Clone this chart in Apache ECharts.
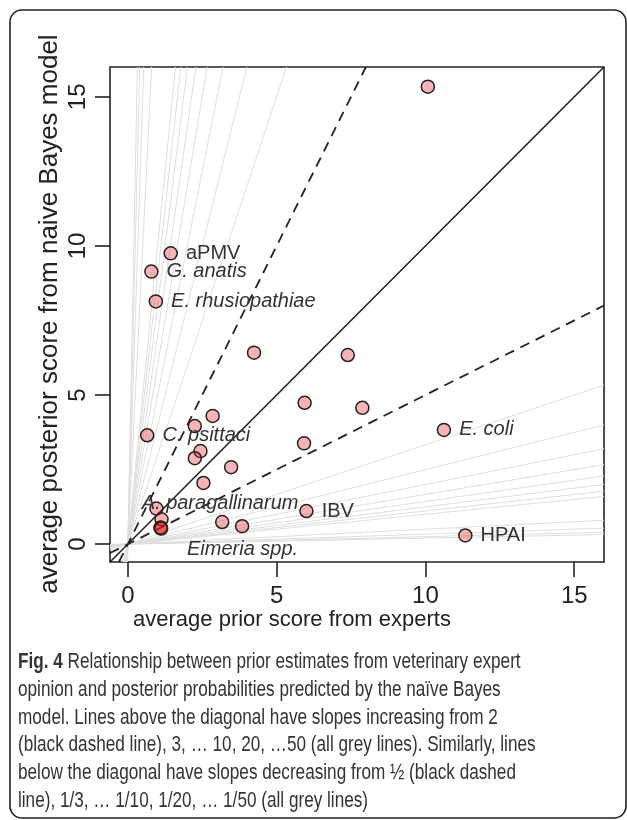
<!DOCTYPE html>
<html>
<head>
<meta charset="utf-8">
<script src="https://cdn.jsdelivr.net/npm/echarts@6/dist/echarts.min.js"></script>
<style>
  html, body { margin: 0; padding: 0; background: #fff; }
  #main { width: 627px; height: 820px; }
</style>
</head>
<body>
<div id="main"></div>
<script>
// values
var priorScore = [10.08, 1.44, 0.79, 0.94, 4.24, 7.39, 5.94, 7.88, 10.62, 0.65, 2.85, 2.25, 5.92,
                  2.44, 2.25, 3.47, 2.54, 0.96, 6.0, 1.13, 3.17, 3.84, 11.34, 1.10, 1.10, 1.12];
var posteriorScore = [15.34, 9.75, 9.14, 8.14, 6.42, 6.34, 4.74, 4.57, 3.83, 3.65, 4.30, 3.96, 3.38,
                      3.12, 2.88, 2.58, 2.05, 1.19, 1.11, 0.83, 0.74, 0.60, 0.29, 0.54, 0.56, 0.52];
var pathogen = ['', 'aPMV', 'G. anatis', 'E. rhusiopathiae', '', '', '', '', 'E. coli', 'C. psittaci', '', '', '',
                '', '', '', '', 'A. paragallinarum', 'IBV', '', '', '', 'HPAI', 'Eimeria spp.', '', ''];
var greySlopes = [3, 4, 5, 6, 7, 8, 9, 10, 20, 30, 40, 50];
var dashedSlopes = [2, 1 / 2];
var axisTicks = [0, 5, 10, 15];

var axMin = -0.6, axMax = 16;
var plainNames = ['aPMV', 'IBV', 'HPAI'];
// label tweaks for the two labels R put off the point
var labelTweaks = {
  'A. paragallinarum': { position: 'right', offset: [-30, -5] },
  'Eimeria spp.': { position: 'inside', offset: [82, 21] }
};

// line through the origin with slope k, clipped to the plot box
function slopeLine(k) {
  var x0 = Math.max(axMin, axMin / k), x1 = Math.min(axMax, axMax / k);
  return [[x0, k * x0], [x1, k * x1]];
}

var series = [];
greySlopes.forEach(function (s) {
  [s, 1 / s].forEach(function (k) {
    series.push({
      type: 'line', data: slopeLine(k), symbol: 'none', silent: true, z: 1,
      lineStyle: { color: '#dedede', width: 1 }
    });
  });
});
dashedSlopes.forEach(function (k) {
  series.push({
    type: 'line', data: slopeLine(k), symbol: 'none', silent: true, z: 2,
    lineStyle: { color: '#222', width: 1.8, type: [10, 7] }
  });
});
series.push({
  type: 'line', data: slopeLine(1), symbol: 'none', silent: true, z: 2,
  lineStyle: { color: '#222', width: 1.6 }
});

var points = priorScore.map(function (x, i) {
  var name = pathogen[i];
  var item = { value: [x, posteriorScore[i]], name: name };
  if (name) {
    var lab = {
      show: true, formatter: name, position: 'right', distance: 8,
      fontStyle: plainNames.indexOf(name) >= 0 ? 'normal' : 'italic'
    };
    if (labelTweaks[name]) { lab.position = labelTweaks[name].position; lab.offset = labelTweaks[name].offset; }
    item.label = lab;
  }
  return item;
});
series.push({
  type: 'scatter', data: points, symbol: 'circle', symbolSize: 13, z: 5,
  itemStyle: { color: 'rgba(240,20,20,0.32)', borderColor: '#222', borderWidth: 1.5, opacity: 1 },
  label: { color: '#333', fontSize: 20, fontFamily: 'Liberation Sans, Arial, sans-serif' }
});

var textFont = 'Liberation Sans, Arial, sans-serif';
var caption = [
  '{b|Fig. 4} Relationship between prior estimates from veterinary expert',
  'opinion and posterior probabilities predicted by the naïve Bayes',
  'model. Lines above the diagonal have slopes increasing from 2',
  '(black dashed line), 3, … 10, 20, …50 (all grey lines). Similarly, lines',
  'below the diagonal have slopes decreasing from ½ (black dashed',
  'line), 1/3, … 1/10, 1/20, … 1/50 (all grey lines)'
];
var graphics = [{
  type: 'rect', shape: { x: 10, y: 10, width: 616, height: 808, r: 12 },
  style: { fill: 'none', stroke: '#222', lineWidth: 1.6 }, z: -1
}, {
  type: 'text', x: 292, y: 620,
  style: { text: 'average prior score from experts', font: '22px ' + textFont, fill: '#222',
           textAlign: 'center', textVerticalAlign: 'middle' }
}, {
  type: 'text', x: 50, y: 314, rotation: Math.PI / 2,
  style: { text: 'average posterior score from naive Bayes model', font: '26px ' + textFont, fill: '#222',
           textAlign: 'center', textVerticalAlign: 'middle' }
}];
caption.forEach(function (line, i) {
  graphics.push({
    type: 'text', x: 18, y: 662 + i * 27.8, scaleX: 0.78,
    style: {
      text: line, fontSize: 22, fontFamily: textFont, fill: '#333',
      verticalAlign: 'middle', align: 'left',
      rich: { b: { fontWeight: 'bold', fontSize: 22, fontFamily: textFont, fill: '#333' } }
    }
  });
});

var chart = echarts.init(document.getElementById('main'));
chart.setOption({
  animation: false,
  grid: { left: 110, top: 67, right: 23, bottom: 258, show: true, borderColor: '#222', borderWidth: 1.6 },
  xAxis: {
    type: 'value', min: axMin, max: axMax,
    axisLine: { show: false, onZero: false },
    axisTick: { show: true, length: 15, customValues: axisTicks, lineStyle: { color: '#222', width: 1.6 } },
    axisLabel: { customValues: axisTicks, fontSize: 24, color: '#222', margin: 22, fontFamily: textFont },
    splitLine: { show: false }
  },
  yAxis: {
    type: 'value', min: axMin, max: axMax,
    axisLine: { show: false, onZero: false },
    axisTick: { show: true, length: 15, customValues: axisTicks, lineStyle: { color: '#222', width: 1.6 } },
    axisLabel: { customValues: axisTicks, fontSize: 24, color: '#222', margin: 20, rotate: 90,
                 align: 'center', verticalAlign: 'bottom', fontFamily: textFont },
    splitLine: { show: false }
  },
  graphic: graphics,
  series: series
});
</script>
</body>
</html>
